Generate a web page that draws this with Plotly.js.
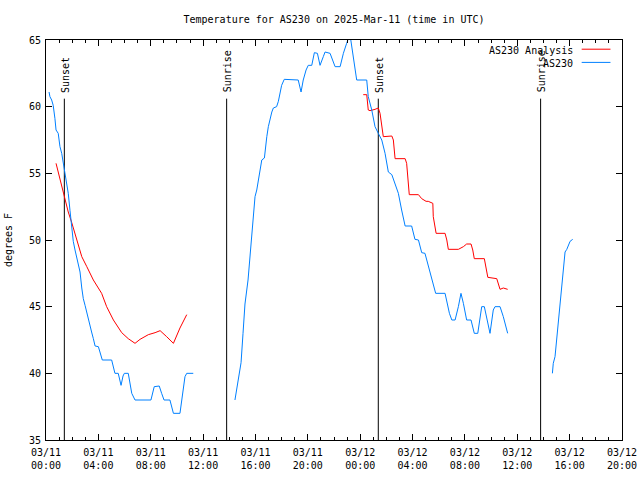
<!DOCTYPE html>
<html>
<head>
<meta charset="utf-8">
<script src="https://cdn.plot.ly/plotly-3.0.1.min.js"></script>
<style>html,body{margin:0;padding:0;background:#fff;}#chart{width:640px;height:480px;}</style>
</head>
<body>
<div id="chart"></div>
<script>
// AS230 observations (null = gap in record)
const obsTimes = [
 "2025-03-11 00:14","2025-03-11 00:18","2025-03-11 00:26","2025-03-11 00:33","2025-03-11 00:41","2025-03-11 00:46",
 "2025-03-11 00:56","2025-03-11 01:04","2025-03-11 01:12","2025-03-11 01:19","2025-03-11 01:27","2025-03-11 01:35",
 "2025-03-11 01:42","2025-03-11 01:50","2025-03-11 01:58","2025-03-11 02:05","2025-03-11 02:13","2025-03-11 02:21",
 "2025-03-11 02:28","2025-03-11 02:36","2025-03-11 02:44","2025-03-11 02:51","2025-03-11 02:59","2025-03-11 03:07",
 "2025-03-11 03:14","2025-03-11 03:22","2025-03-11 03:29","2025-03-11 03:37","2025-03-11 03:45","2025-03-11 04:00",
 "2025-03-11 04:08","2025-03-11 04:18","2025-03-11 05:01","2025-03-11 05:09","2025-03-11 05:16","2025-03-11 05:31",
 "2025-03-11 05:39","2025-03-11 05:44","2025-03-11 05:53","2025-03-11 05:59","2025-03-11 06:17","2025-03-11 06:25",
 "2025-03-11 06:33","2025-03-11 06:48","2025-03-11 08:01","2025-03-11 08:16","2025-03-11 08:39","2025-03-11 08:50",
 "2025-03-11 09:01","2025-03-11 09:28","2025-03-11 09:44","2025-03-11 10:14","2025-03-11 10:22","2025-03-11 10:29",
 "2025-03-11 10:37","2025-03-11 10:45","2025-03-11 11:15",
 "2025-03-11 12:50",
 "2025-03-11 14:26","2025-03-11 14:40","2025-03-11 14:54","2025-03-11 15:03","2025-03-11 15:12","2025-03-11 15:26",
 "2025-03-11 15:40","2025-03-11 15:50","2025-03-11 15:58","2025-03-11 16:06","2025-03-11 16:13","2025-03-11 16:21",
 "2025-03-11 16:29","2025-03-11 16:41","2025-03-11 16:44","2025-03-11 16:52","2025-03-11 16:59","2025-03-11 17:07",
 "2025-03-11 17:15","2025-03-11 17:22","2025-03-11 17:37","2025-03-11 17:45","2025-03-11 17:53","2025-03-11 18:00",
 "2025-03-11 18:12","2025-03-11 19:16","2025-03-11 19:29","2025-03-11 19:39","2025-03-11 19:52","2025-03-11 20:02",
 "2025-03-11 20:18","2025-03-11 20:30","2025-03-11 20:44","2025-03-11 20:56","2025-03-11 21:11","2025-03-11 21:19",
 "2025-03-11 21:42","2025-03-11 22:05","2025-03-11 22:28","2025-03-11 22:43","2025-03-11 22:58","2025-03-11 23:10",
 "2025-03-11 23:17","2025-03-11 23:26","2025-03-11 23:36","2025-03-11 23:44","2025-03-12 00:30","2025-03-12 00:37",
 "2025-03-12 00:53","2025-03-12 01:08","2025-03-12 01:23","2025-03-12 01:39","2025-03-12 01:54","2025-03-12 02:09",
 "2025-03-12 02:25","2025-03-12 02:40","2025-03-12 02:55","2025-03-12 03:10","2025-03-12 03:26","2025-03-12 03:56",
 "2025-03-12 04:11","2025-03-12 04:27","2025-03-12 04:42","2025-03-12 04:57","2025-03-12 05:05","2025-03-12 05:20",
 "2025-03-12 05:35","2025-03-12 05:46","2025-03-12 06:29","2025-03-12 06:39","2025-03-12 06:49","2025-03-12 07:00",
 "2025-03-12 07:15","2025-03-12 07:30","2025-03-12 07:42","2025-03-12 07:53","2025-03-12 08:08","2025-03-12 08:28",
 "2025-03-12 08:43","2025-03-12 08:59","2025-03-12 09:09","2025-03-12 09:17","2025-03-12 09:29","2025-03-12 09:40",
 "2025-03-12 09:55","2025-03-12 10:10","2025-03-12 10:18","2025-03-12 10:41","2025-03-12 10:56","2025-03-12 11:16",
 "2025-03-12 13:00",
 "2025-03-12 14:41","2025-03-12 14:45","2025-03-12 14:53","2025-03-12 14:58","2025-03-12 15:04","2025-03-12 15:08",
 "2025-03-12 15:13","2025-03-12 15:19","2025-03-12 15:24","2025-03-12 15:28","2025-03-12 15:34","2025-03-12 15:39",
 "2025-03-12 15:47","2025-03-12 15:54","2025-03-12 16:02","2025-03-12 16:14"
];
const obsTemps = [
 61.1,60.75,60.5,60.1,59.1,58.25,
 58,57,56.5,55.8,55.2,54.5,
 53.5,52.2,51,49.9,49.25,48.6,
 48.1,47.6,46.4,45.6,45.1,44.5,
 44.1,43.6,43.1,42.6,42.05,42,
 41.5,41,41,40.4,40,40,
 39.4,39.1,39.8,40,40,39.3,
 38.5,38,38,39,39.05,38.5,
 38,38,37,37,38,39,
 39.75,40,40,
 null,
 38,39.5,40.8,43,45.2,47,
 49.5,51.5,53.25,53.75,54.5,55.25,
 56,56.15,56.75,57.75,58.5,59.15,
 59.6,59.9,60,60.4,61,61.6,
 62.05,62,61.1,62,62.75,63.1,
 63.1,64.05,64,63.1,63.75,64.1,
 64,63,63,64,64.75,65.3,
 65,64,63,62,62,60.75,
 59.75,58.5,58,57.5,56.5,55.1,
 54.9,54.25,53.5,52.25,51.05,51.05,
 50.05,50,49.05,49,48.5,47.6,
 46.6,46,46,45.25,44.5,44,
 44,45,46,45.25,44,44,
 43,43,44.25,45,45,44.25,
 43,44.75,45,45,44.25,43,
 null,
 40,40.75,41.25,42.1,43.25,44,
 44.9,45.75,46.5,47.4,48,49.1,
 49.3,49.6,49.9,50.05
];

// AS230 Analysis
const anaTimes = [
 "2025-03-11 00:46","2025-03-11 01:04","2025-03-11 01:18","2025-03-11 01:27","2025-03-11 01:42","2025-03-11 01:58",
 "2025-03-11 02:13","2025-03-11 02:28","2025-03-11 02:44","2025-03-11 03:07","2025-03-11 03:37","2025-03-11 04:15",
 "2025-03-11 04:38","2025-03-11 05:09","2025-03-11 05:47","2025-03-11 06:17","2025-03-11 06:48","2025-03-11 07:11",
 "2025-03-11 07:49","2025-03-11 08:20","2025-03-11 08:43","2025-03-11 09:13","2025-03-11 09:44","2025-03-11 10:14",
 "2025-03-11 10:45",
 "2025-03-11 18:00",
 "2025-03-12 00:14","2025-03-12 00:30","2025-03-12 00:37","2025-03-12 00:45","2025-03-12 01:08","2025-03-12 01:23",
 "2025-03-12 01:31","2025-03-12 01:46","2025-03-12 02:25","2025-03-12 02:32","2025-03-12 02:40","2025-03-12 03:26",
 "2025-03-12 03:33","2025-03-12 03:45","2025-03-12 04:27","2025-03-12 04:42","2025-03-12 05:02","2025-03-12 05:12",
 "2025-03-12 05:33","2025-03-12 05:35","2025-03-12 05:48","2025-03-12 06:29","2025-03-12 06:37","2025-03-12 06:44",
 "2025-03-12 07:30","2025-03-12 07:53","2025-03-12 08:08","2025-03-12 08:28","2025-03-12 08:36","2025-03-12 08:43",
 "2025-03-12 09:29","2025-03-12 09:37","2025-03-12 09:45","2025-03-12 10:26","2025-03-12 10:33","2025-03-12 10:41",
 "2025-03-12 10:56","2025-03-12 11:16"
];
const anaTemps = [
 55.75,54.5,53.6,53.0,52.1,51.3,
 50.5,49.75,48.75,48,47,46,
 45,44,43.05,42.6,42.25,42.55,
 42.9,43.05,43.2,42.75,42.25,43.4,
 44.4,
 null,
 60.9,60.9,59.75,59.7,59.8,59.9,
 59.5,57.75,57.8,57.5,56.1,56.1,
 55.75,53.4,53.4,53.1,52.9,52.9,
 52.75,51.75,50.5,50.5,50,49.3,
 49.3,49.5,49.7,49.7,49.25,48.6,
 48.6,47.75,47.2,47.1,46.75,46.3,
 46.4,46.3
];

// Sun events
const sunTimes = ["2025-03-11 01:24","2025-03-11 13:48","2025-03-12 01:23","2025-03-12 13:47"];
const sunLabels = ["Sunset","Sunrise","Sunset","Sunrise"];
const sunLineTop = 60.6;
const yMin = 35, yMax = 65;

const seriesNames = ["AS230 Analysis","AS230"];
const seriesColors = ["#ff0000","#0080ff"];

const FONT = "DejaVu Sans Mono, monospace";

const traces = [];
sunTimes.forEach(function(t){
  traces.push({x:[t,t], y:[sunLineTop,yMin], mode:"lines", line:{color:"#000",width:1},
    showlegend:false, hoverinfo:"skip"});
});
traces.push({x:anaTimes, y:anaTemps, name:seriesNames[0], mode:"lines",
  line:{color:seriesColors[0],width:1}, connectgaps:false, showlegend:false});
traces.push({x:obsTimes, y:obsTemps, name:seriesNames[1], mode:"lines",
  line:{color:seriesColors[1],width:1}, connectgaps:false, showlegend:false});

const annotations = sunTimes.map(function(t,i){
  return {x:t, y:sunLineTop, xref:"x", yref:"y", text:sunLabels[i], showarrow:false,
    textangle:-90, xanchor:"center", yanchor:"bottom", yshift:4, xshift:1,
    font:{family:FONT,size:10,color:"#000"}};
});
// legend (text right-aligned, line sample on the right, as in the reference)
const legY = [0.975, 0.942];
const shapes = [];
seriesNames.forEach(function(n,i){
  annotations.push({x:0.918, y:legY[i], xref:"paper", yref:"paper", text:n, showarrow:false,
    xanchor:"right", yanchor:"middle", font:{family:FONT,size:10,color:"#000"}});
  shapes.push({type:"line", xref:"paper", yref:"paper", x0:0.930, x1:0.980, y0:legY[i]+0.002, y1:legY[i]+0.002,
    line:{color:seriesColors[i],width:1}});
});

const layout = {
  width:640, height:480,
  margin:{l:46,r:18,t:40,b:40,pad:0},
  paper_bgcolor:"#fff", plot_bgcolor:"#fff",
  font:{family:FONT,size:10,color:"#000"},
  showlegend:false,
  title:{text:"Temperature for AS230 on 2025-Mar-11 (time in UTC)", x:0.5, xref:"paper",
    y:1-19/480, yref:"container", yanchor:"middle", font:{family:FONT,size:10,color:"#000"}},
  xaxis:{type:"date", range:["2025-03-11 00:00","2025-03-12 20:00"],
    tick0:"2025-03-11 00:00", dtick:4*3600000, tickformat:"%m/%d<br>%H:%M",
    ticks:"inside", ticklen:6, tickcolor:"#000", tickwidth:1, ticklabelstandoff:3,
    minor:{dtick:3600000, ticks:"inside", ticklen:3, tickcolor:"#000", tickwidth:1, showgrid:false},
    showline:true, linecolor:"#000", linewidth:1, mirror:"ticks",
    showgrid:false, zeroline:false, tickfont:{family:FONT,size:10,color:"#000"}},
  yaxis:{range:[yMin,yMax], dtick:5, tick0:35,
    ticks:"inside", ticklen:6, tickcolor:"#000", tickwidth:1, ticklabelstandoff:2,
    showline:true, linecolor:"#000", linewidth:1, mirror:"ticks",
    showgrid:false, zeroline:false, tickfont:{family:FONT,size:10,color:"#000"},
    title:{text:"degrees F", standoff:14, font:{family:FONT,size:10,color:"#000"}}},
  annotations:annotations,
  shapes:shapes
};

Plotly.newPlot("chart", traces, layout, {staticPlot:true, displayModeBar:false});
</script>
</body>
</html>
